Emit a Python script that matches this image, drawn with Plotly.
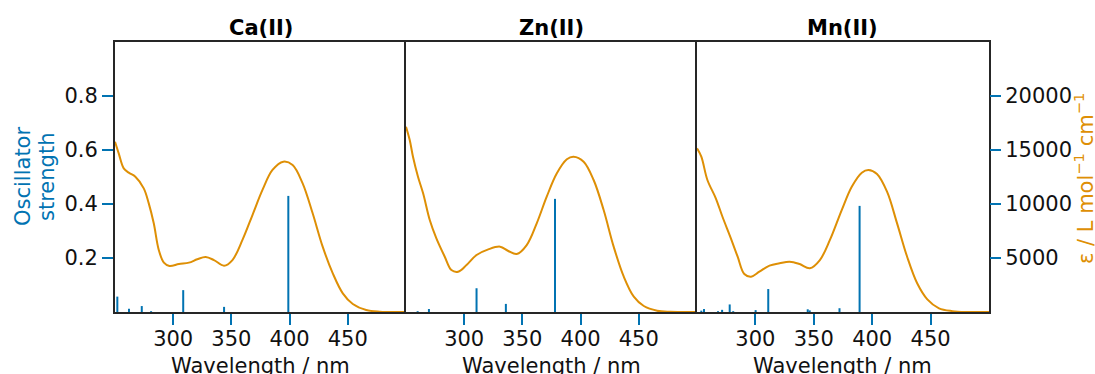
import plotly.graph_objects as go

# ---------------- data ----------------
panel_titles = ["Ca(II)", "Zn(II)", "Mn(II)"]

ca_wl = [250, 253.2, 257.5, 261.8, 267.5, 274.7, 279, 283.3, 287.6, 292, 296.8, 304.9, 313.5, 320.7,
         327.9, 335, 343.7, 350.9, 359.5, 368.1, 376.7, 385.3, 394.6, 402.6, 411.2, 419.8, 428.4,
         437.1, 445.7, 454.3, 465.8, 477.3, 500]
ca_eps = [15770, 14690, 13300, 12900, 12530, 11450, 10060, 8210, 5740, 4570, 4260, 4440, 4570, 4880,
          5090, 4810, 4290, 4810, 6670, 8980, 11300, 13150, 13920, 13610, 11910, 9140, 6050,
          3580, 1730, 740, 185, 30, 0]

zn_wl = [250, 253.2, 256, 260.3, 264.7, 270.4, 276.1, 283.3, 289, 294.8, 302, 310.6, 320.7, 330.8,
         337.9, 345.1, 353.7, 362.3, 370.9, 379.6, 388.2, 393.9, 402.6, 411.2, 419.8, 428.4, 437.1,
         445.7, 454.3, 465.8, 477, 500]
zn_eps = [17160, 15930, 14380, 12530, 10990, 8520, 6820, 5120, 3890, 3730, 4350, 5280, 5800, 6050,
          5650, 5370, 6200, 8210, 10680, 12840, 14140, 14380, 13920, 12220, 9440, 6050, 3270,
          1420, 555, 120, 20, 0]

mn_wl = [250, 253.7, 258.9, 266.1, 271.8, 279, 284.8, 290.5, 296.3, 303.4, 312.1, 320.7, 329.3, 337.9,
         346.6, 355.2, 363.8, 373.9, 382.5, 391.1, 396.8, 404.1, 412.7, 421.3, 429.9, 438.5, 447.2,
         457.2, 468.7, 480, 500]
mn_eps = [15150, 14380, 12220, 10530, 8820, 6820, 5120, 3520, 3270, 3730, 4290, 4510, 4660, 4440,
          4050, 4810, 6670, 9440, 11600, 12900, 13150, 12780, 11140, 8210, 5120, 2660, 1170,
          340, 80, 0, 0]

ca_stick_wl = [252, 262, 273, 281, 308.6, 343.7, 398.9]
ca_stick_f = [0.057, 0.012, 0.022, 0.003, 0.081, 0.019, 0.43]

zn_stick_wl = [260, 269.7, 310.6, 335.8, 378]
zn_stick_f = [0.003, 0.011, 0.088, 0.03, 0.419]

mn_stick_wl = [253.7, 256, 268, 271.5, 278, 281, 300.2, 311, 344.8, 346.5, 372, 389.2]
mn_stick_f = [0.005, 0.011, 0.003, 0.008, 0.028, 0.003, 0.007, 0.085, 0.010, 0.006, 0.014, 0.393]

x_ticks = [300, 350, 400, 450]
osc_ticks = [0.2, 0.4, 0.6, 0.8]
eps_ticks = [5000, 10000, 15000, 20000]

# ---------------- style ----------------
W, H = 1095, 374
BLUE = "#0173B2"
ORANGE = "#DE8F05"
SPINE = "#262626"
TXT = "#111111"
FONT = "DejaVu Sans"
FS = 21

panel_px = [(115, 406), (406, 697), (697, 989)]
top_px, bot_px = 42, 312
ydom = [1 - bot_px / H, 1 - top_px / H]

spectra = [(ca_wl, ca_eps), (zn_wl, zn_eps), (mn_wl, mn_eps)]
sticks = [(ca_stick_wl, ca_stick_f), (zn_stick_wl, zn_stick_f), (mn_stick_wl, mn_stick_f)]

fig = go.Figure()
layout = {}
annotations = []

for i in range(3):
    xa = "x" if i == 0 else f"x{i+1}"
    ya_l = f"y{2*i+1}" if i > 0 else "y"
    ya_r = f"y{2*i+2}"
    xkey = "xaxis" if i == 0 else f"xaxis{i+1}"
    ylkey = "yaxis" if i == 0 else f"yaxis{2*i+1}"
    yrkey = f"yaxis{2*i+2}"

    # sticks
    sx, sy = [], []
    for w, f in zip(*sticks[i]):
        sx += [w, w, None]
        sy += [0, f, None]
    fig.add_trace(go.Scatter(x=sx, y=sy, mode="lines", line=dict(color=BLUE, width=2),
                             xaxis=xa, yaxis=ya_l, showlegend=False, hoverinfo="skip"))
    # spectrum
    fig.add_trace(go.Scatter(x=spectra[i][0], y=spectra[i][1], mode="lines",
                             line=dict(color=ORANGE, width=2, shape="spline", smoothing=1.0),
                             xaxis=xa, yaxis=ya_r, showlegend=False))

    l, r = panel_px[i]
    layout[xkey] = dict(domain=[l / W, r / W], range=[250, 500], anchor=ya_l,
                        tickvals=x_ticks, ticks="outside", ticklen=11, tickwidth=2, tickcolor=BLUE,
                        ticklabelstandoff=-4,
                        showline=True, mirror=True, linecolor=SPINE, linewidth=2,
                        showgrid=False, zeroline=False,
                        tickfont=dict(family=FONT, size=FS, color=TXT))
    layout[ylkey] = dict(domain=ydom, range=[0, 1], anchor=xa,
                         tickvals=osc_ticks, showline=True, mirror=(i == 2),
                         linecolor=SPINE, linewidth=2,
                         showgrid=False, zeroline=False,
                         ticks="outside" if i == 0 else "", ticklen=11, tickwidth=2, tickcolor=BLUE,
                         showticklabels=(i == 0),
                         tickfont=dict(family=FONT, size=FS, color=TXT))
    layout[yrkey] = dict(range=[0, 25000], overlaying=ya_l, side="right", anchor=xa,
                         tickvals=eps_ticks, tickformat="d", showgrid=False, zeroline=False,
                         showline=False,
                         ticks="outside" if i == 2 else "", ticklen=11, tickwidth=2, tickcolor=BLUE,
                         showticklabels=(i == 2),
                         tickfont=dict(family=FONT, size=FS, color=TXT))

    annotations.append(dict(text=f"<b>{panel_titles[i]}</b>", x=(l + r) / 2 / W, y=1 - 28 / H,
                            xref="paper", yref="paper", showarrow=False, xanchor="center",
                            yanchor="middle", font=dict(family=FONT, size=FS, color="#000000")))
    annotations.append(dict(text="Wavelength / nm", x=(l + r) / 2 / W, y=1 - 366 / H,
                            xref="paper", yref="paper", showarrow=False, xanchor="center",
                            yanchor="middle", font=dict(family=FONT, size=FS, color=TXT)))

annotations.append(dict(text="Oscillator", x=23 / W, y=1 - 177 / H, xref="paper", yref="paper",
                        showarrow=False, textangle=-90, xanchor="center", yanchor="middle",
                        font=dict(family=FONT, size=FS, color=BLUE)))
annotations.append(dict(text="strength", x=47 / W, y=1 - 177 / H, xref="paper", yref="paper",
                        showarrow=False, textangle=-90, xanchor="center", yanchor="middle",
                        font=dict(family=FONT, size=FS, color=BLUE)))
annotations.append(dict(text="ε / L mol<sup>−1</sup> cm<sup>−1</sup>", x=1084 / W, y=1 - 179 / H,
                        xref="paper", yref="paper", showarrow=False, textangle=-90,
                        xanchor="center", yanchor="middle",
                        font=dict(family=FONT, size=FS, color=ORANGE)))

fig.update_layout(width=W, height=H, margin=dict(l=0, r=0, t=0, b=0),
                  paper_bgcolor="white", plot_bgcolor="white",
                  annotations=annotations, **layout)

fig.write_html("out.html", config={"displayModeBar": False},
               post_script="document.body.style.margin='0';document.body.style.overflow='hidden';")
